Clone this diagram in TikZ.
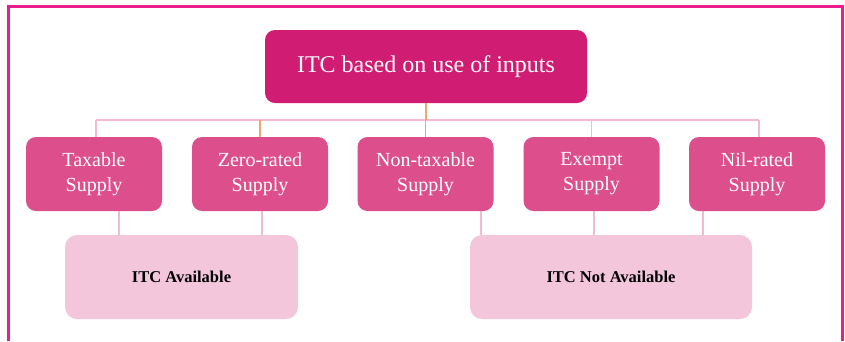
\documentclass[tikz,border=0pt]{standalone}
\usepackage{fontspec}
\setmainfont{Liberation Serif}
\definecolor{frame}{HTML}{EC1C8E}
\definecolor{topc}{HTML}{D11C74}
\definecolor{midc}{HTML}{DC4F8C}
\definecolor{lowc}{HTML}{F3C6DC}
\definecolor{linec}{HTML}{F2B9D2}
\definecolor{orangec}{HTML}{F3A66A}
\begin{document}
\begin{tikzpicture}[x=1pt,y=-1pt,
  topbox/.style={fill=topc,rounded corners=10pt,minimum width=322pt,minimum height=73pt,text=white,font=\fontsize{24}{28}\selectfont,inner sep=0pt},
  midbox/.style={fill=midc,rounded corners=10pt,minimum width=136pt,minimum height=74pt,text=white,font=\fontsize{20}{25}\selectfont,align=center,inner sep=0pt},
  lowbox/.style={fill=lowc,rounded corners=12pt,minimum height=84pt,text=black,font=\fontsize{16.5}{20}\selectfont\bfseries,inner sep=0pt},
  conn/.style={draw=linec,line width=1.2pt},
  oconn/.style={draw=orangec,line width=1.2pt}]
\useasboundingbox (0,0) rectangle (845,341);
\fill[white] (0,0) rectangle (845,341);
\draw[frame,line width=3pt] (8,341) -- (8,6) -- (842,6) -- (842,341);
% connectors first
\coordinate (hl) at (96,120);
\coordinate (hr) at (759,120);
\node[topbox] (top) at (426,66.5) {ITC based on use of inputs};
\node[midbox] (tax) at (94,174) {Taxable\\Supply};
\node[midbox] (zero) at (260,174) {Zero-rated\\Supply};
\node[midbox] (non) at (425.5,174) {Non-taxable\\Supply};
\node[midbox] (ex) at (591.5,174) {Exempt\\Supply};
\node[midbox] (nil) at (757,174) {Nil-rated\\Supply};
\node[lowbox,minimum width=233pt] (av) at (181.5,277) {ITC Available};
\node[lowbox,minimum width=282pt] (nav) at (611,277) {ITC Not Available};
\begin{scope}[on background layer/.try]
\end{scope}
\draw[conn] (hl) -- (hr);
\draw[conn] (hl) -- (tax.north -| hl);
\draw[conn] (ex.north |- hr) -- (ex.north);
\draw[conn] (hr) -- (nil.north -| hr);
\draw[oconn] (zero.north |- hl) -- (zero.north);
\draw[oconn] (top.south) -- (top.south |- hl);
\draw[oconn] (non.north |- hl) -- (non.north);
\coordinate (a1) at (119,211);
\coordinate (a2) at (262,211);
\coordinate (b1) at (481,211);
\coordinate (b2) at (594,211);
\coordinate (b3) at (703,211);
\draw[conn] (a1) -- (a1 |- av.north);
\draw[conn] (a2) -- (a2 |- av.north);
\draw[conn] (b1) -- (b1 |- nav.north);
\draw[conn] (b2) -- (b2 |- nav.north);
\draw[conn] (b3) -- (b3 |- nav.north);
\end{tikzpicture}
\end{document}
